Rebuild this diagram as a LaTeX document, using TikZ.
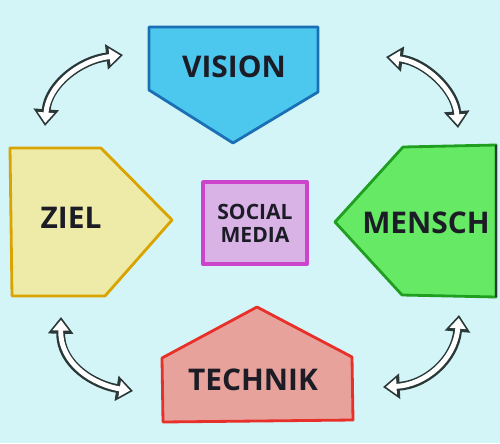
\documentclass[tikz,border=0pt]{standalone}
\usepackage{fontspec}
\setmainfont{Open Sans}
\usetikzlibrary{arrows.meta}

\definecolor{bgcyan}{HTML}{D3F5F7}
\definecolor{inkdark}{HTML}{1C1C26}
\definecolor{visionfill}{HTML}{4CC8EE}
\definecolor{visionedge}{HTML}{1B6FB5}
\definecolor{zielfill}{HTML}{EEEBA8}
\definecolor{zieledge}{HTML}{D9A400}
\definecolor{menschfill}{HTML}{66EA66}
\definecolor{menschedge}{HTML}{1F9E1F}
\definecolor{technikfill}{HTML}{E8A29C}
\definecolor{technikedge}{HTML}{E8302A}
\definecolor{socialfill}{HTML}{D9B3E6}
\definecolor{socialedge}{HTML}{CC44CC}
\definecolor{arrowdark}{HTML}{2B3838}

\tikzset{
  bigword/.style={font=\bfseries\fontsize{17}{19}\selectfont, text=inkdark},
  smallword/.style={font=\bfseries\fontsize{12}{13}\selectfont, text=inkdark, align=center},
  plate/.style={line width=1.6pt, line join=round},
  swoop/.style={line width=5pt, draw=arrowdark,
    {Triangle[length=9.5pt,width=14pt]}-{Triangle[length=9.5pt,width=14pt]},
    postaction={draw=white, line width=2.8pt, shorten <=1.7pt, shorten >=1.7pt,
      {Triangle[length=6pt,width=9pt]}-{Triangle[length=6pt,width=9pt]}}}
}

\begin{document}
\begin{tikzpicture}[x=0.02cm,y=-0.02cm]

  \fill[bgcyan] (0,0) rectangle (500,443); % background
  \useasboundingbox (0,0) rectangle (500,443);

  % vision, pointing down
  \filldraw[plate, fill=visionfill, draw=visionedge] (149,27) -- (318,27) -- (318,92) -- (233,143) -- (149,90) -- cycle;
  \node[bigword] (vision) at (234,67) {VISION};

  % ziel, pointing right
  \filldraw[plate, fill=zielfill, draw=zieledge] (10,148) -- (101,148) -- (172,220) -- (105,296) -- (12,296) -- cycle;
  \node[bigword] (ziel) at (71,218) {ZIEL};

  % mensch, pointing left
  \filldraw[plate, fill=menschfill, draw=menschedge] (403,147) -- (496,145) -- (496,297) -- (402,295) -- (335,222) -- cycle;
  \draw[line width=1pt, arrowdark] (496,145) -- (496,297);
  \node[bigword] (mensch) at (426,223) {MENSCH};

  % technik, pointing up
  \filldraw[plate, fill=technikfill, draw=technikedge] (257,307) -- (352,357) -- (353,420) -- (163,422) -- (162,358) -- cycle;
  \node[bigword] (technik) at (253,380) {TECHNIK};

  % social media in the middle
  \filldraw[plate, line width=2.2pt, fill=socialfill, draw=socialedge] (203,182) rectangle (307,264);
  \node[smallword] (social) at (255,223) {SOCIAL\\MEDIA};

  % arrow ends
  \coordinate (tl a) at (45,126);
  \coordinate (tl b) at (123,55);
  \coordinate (tr a) at (386,57);
  \coordinate (tr b) at (458,128);
  \coordinate (bl a) at (61,317);
  \coordinate (bl b) at (133,391);
  \coordinate (br a) at (459,315);
  \coordinate (br b) at (383,387);

  %swoops
  \draw[swoop] (tl a) .. controls (48,85) and (80,60) .. (tl b);
  \draw[swoop] (tr a) .. controls (425,62) and (455,90) .. (tr b);
  \draw[swoop] (bl a) .. controls (60,365) and (95,385) .. (bl b);
  \draw[swoop] (br a) .. controls (455,360) and (425,385) .. (br b);

\end{tikzpicture}
\end{document}
